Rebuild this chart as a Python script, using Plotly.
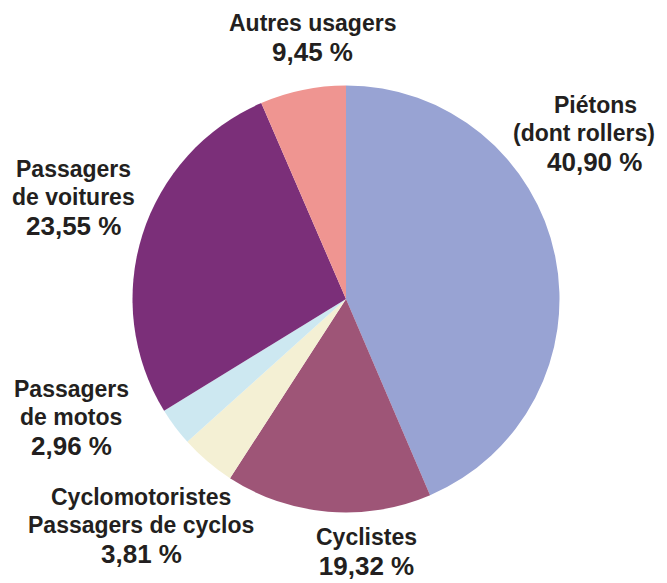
import plotly.graph_objects as go

# Categories (clockwise from 12 o'clock)
categories = ["Piétons (dont rollers)", "Cyclistes", "Cyclomotoristes / Passagers de cyclos",
              "Passagers de motos", "Passagers de voitures", "Autres usagers"]
# Slice sizes as drawn in the picture (%)
drawn_share = [43.6, 15.6, 4.2, 2.9, 27.3, 6.5]
# Percentages printed on the labels
printed_pct = ["40,90", "19,32", "3,81", "2,96", "23,55", "9,45"]
label_lines = [["Piétons", "(dont rollers)"], ["Cyclistes"], ["Cyclomotoristes", "Passagers de cyclos"],
               ["Passagers", "de motos"], ["Passagers", "de voitures"], ["Autres usagers"]]
colors = ["#98a3d3", "#9e5577", "#f4f0d4", "#cde8f1", "#7b2f79", "#ef9591"]

# page has an 8px body margin: figure sized to the remaining area, coords shifted
OFF = 8
W, H = 667 - OFF, 583 - OFF
cx, cy, r = 346 - OFF, 299 - OFF, 213.5

fig = go.Figure(go.Pie(
    labels=categories, values=drawn_share, sort=False, direction="clockwise", rotation=0,
    marker=dict(colors=colors, line=dict(width=0)),
    textinfo="none", hoverinfo="skip", showlegend=False,
    domain=dict(x=[(cx - r) / W, (cx + r) / W], y=[1 - (cy + r) / H, 1 - (cy - r) / H]),
))

# label lines: centre x and centre y of each line (page pixels); None -> one block at bottom edge
label_x = [[595, 584, 594], [367], [141, 141, 141], [71, 71, 71], [73, 73, 73], [312, 312]]
label_y = [[105, 133, 162], None, [497, 525, 554], [389, 417, 446], [169, 197, 226], [23, 52]]
TXT = "#231f20"
name_font = dict(family="Liberation Sans, Arial", size=23, color=TXT)
pct_font = dict(family="Liberation Sans, Arial", size=26, color=TXT)
for lines, pct, xs, ys in zip(label_lines, printed_pct, label_x, label_y):
    if ys is None:
        # block anchored at the bottom of the page, percentage in larger type
        text = "<br>".join(f"<b>{l}</b>" for l in lines)
        text += f"<br><b><span style='font-size:26px'>{pct} %</span></b>"
        fig.add_annotation(x=(xs[0] - OFF) / W, y=0, xref="paper", yref="paper",
                           text=text, showarrow=False, font=name_font,
                           xanchor="center", yanchor="bottom", align="center")
        continue
    entries = [(l, name_font) for l in lines] + [(f"{pct} %", pct_font)]
    for (txt, f), x, y in zip(entries, xs, ys):
        fig.add_annotation(x=(x - OFF) / W, y=1 - (y - OFF) / H, xref="paper", yref="paper",
                           text=f"<b>{txt}</b>", showarrow=False, font=f,
                           xanchor="center", yanchor="middle")

fig.update_layout(width=W, height=H, margin=dict(l=0, r=0, t=0, b=0),
                  paper_bgcolor="white", plot_bgcolor="white")
fig.write_html("out.html")
